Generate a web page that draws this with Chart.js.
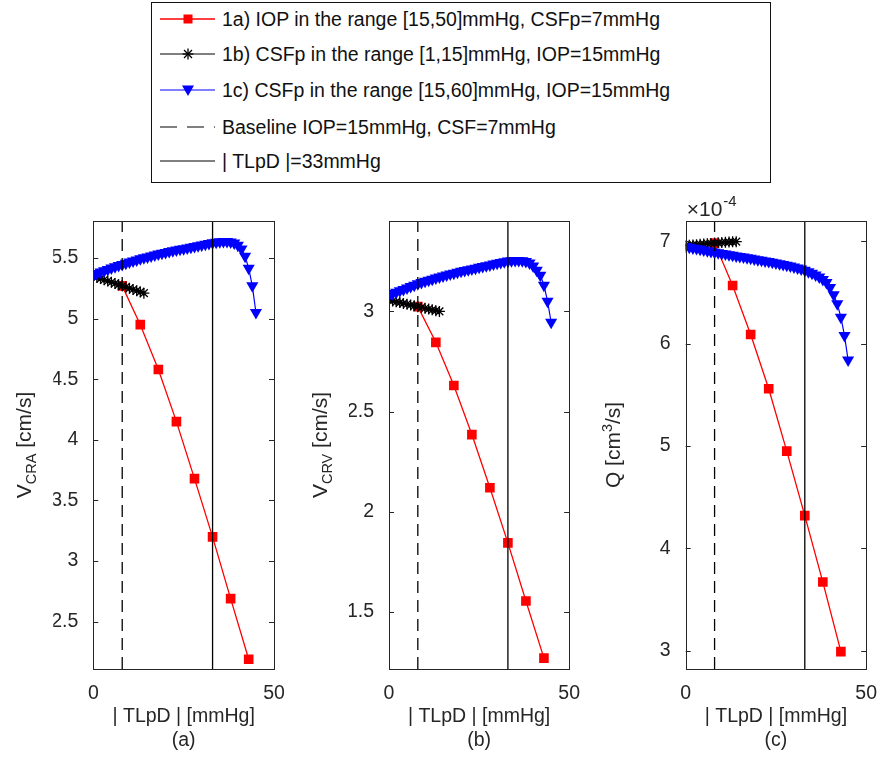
<!DOCTYPE html>
<html>
<head>
<meta charset="utf-8">
<script src="https://cdn.jsdelivr.net/npm/chart.js"></script>
<style>
  html, body { margin: 0; padding: 0; background: #fff; }
  #page { position: relative; width: 882px; height: 758px; overflow: hidden; font-family: "Liberation Sans", Arial, sans-serif; color: #111; }
  canvas { position: absolute; top: 190px; }
  #legendBox { position: absolute; left: 151px; top: 2px; width: 618px; height: 179px; border: 1px solid #111; }
  .entry { position: absolute; left: 158px; height: 30px; width: 600px; }
  .entry svg { position: absolute; left: 0; top: 0; }
  .entry span { position: absolute; left: 64px; top: 0; line-height: 30px; font-size: 19.5px; white-space: nowrap; }
</style>
</head>
<body>
<div id="page">
  <div id="legendBox"></div>
  <div class="entry" style="top:4px">
    <svg width="60" height="30"><line x1="2" y1="15" x2="57" y2="15" stroke="#f00" stroke-width="1.3"/><rect x="25.5" y="10.5" width="9" height="9" fill="#f00"/></svg>
    <span>1a) IOP in the range [15,50]mmHg, CSFp=7mmHg</span>
  </div>
  <div class="entry" style="top:39px">
    <svg width="60" height="30"><line x1="2" y1="15" x2="57" y2="15" stroke="#000" stroke-width="1"/>
      <g stroke="#000" stroke-width="1.3"><line x1="30" y1="9.5" x2="30" y2="20.5"/><line x1="24.5" y1="15" x2="35.5" y2="15"/><line x1="26" y1="11" x2="34" y2="19"/><line x1="26" y1="19" x2="34" y2="11"/></g></svg>
    <span>1b) CSFp in the range [1,15]mmHg, IOP=15mmHg</span>
  </div>
  <div class="entry" style="top:75px">
    <svg width="60" height="30"><line x1="2" y1="15" x2="57" y2="15" stroke="#00f" stroke-width="1"/><polygon points="24,10.5 36,10.5 30,21" fill="#00f"/></svg>
    <span>1c) CSFp in the range [15,60]mmHg, IOP=15mmHg</span>
  </div>
  <div class="entry" style="top:112px">
    <svg width="60" height="30"><line x1="2" y1="15" x2="57" y2="15" stroke="#000" stroke-width="1.2" stroke-dasharray="17 10"/></svg>
    <span>Baseline IOP=15mmHg, CSF=7mmHg</span>
  </div>
  <div class="entry" style="top:146px">
    <svg width="60" height="30"><line x1="2" y1="15" x2="57" y2="15" stroke="#000" stroke-width="1.2"/></svg>
    <span>| TLpD |=33mmHg</span>
  </div>
  <canvas id="chartA" width="290" height="568" style="left:0px"></canvas>
  <canvas id="chartB" width="290" height="568" style="left:295px"></canvas>
  <canvas id="chartC" width="292" height="568" style="left:590px"></canvas>
</div>
<script>
// |TLpD| values of each simulation set [mmHg]
const tlpdIop = [8, 13, 18, 23, 28, 33, 38, 43];
const tlpdCsfLow = [0, 1, 2, 3, 4, 5, 6, 7, 8, 9, 10, 11, 12, 13, 14];
const tlpdCsfHigh = [0, 1, 2, 3, 4, 5, 6, 7, 8, 9, 10, 11, 12, 13, 14, 15, 16, 17, 18, 19, 20, 21, 22,
  23, 24, 25, 26, 27, 28, 29, 30, 31, 32, 33, 34, 35, 36, 37, 38, 39, 40, 41, 42, 43, 44, 45];
const baselineTlpd = 8;
const thresholdTlpd = 33;
const xTicks = [0, 50];

// (a) CRA velocity [cm/s]
const vcraIop = [5.27, 4.95, 4.58, 4.15, 3.68, 3.20, 2.69, 2.19];
const vcraCsfLow = [5.35, 5.34, 5.33, 5.32, 5.31, 5.30, 5.29, 5.28, 5.27, 5.26, 5.25, 5.24, 5.23, 5.22, 5.21];
const vcraCsfHigh = [5.36, 5.372, 5.384, 5.395, 5.406, 5.417, 5.427, 5.437, 5.447, 5.457, 5.466, 5.475,
  5.484, 5.493, 5.501, 5.509, 5.517, 5.525, 5.532, 5.539, 5.546, 5.553, 5.559, 5.565, 5.571, 5.577,
  5.583, 5.589, 5.595, 5.601, 5.607, 5.613, 5.619, 5.625, 5.63, 5.634, 5.636, 5.636, 5.632, 5.623,
  5.605, 5.575, 5.515, 5.415, 5.27, 5.05];
const vcraTicks = [2.5, 3, 3.5, 4, 4.5, 5, 5.5];

// (b) CRV velocity [cm/s]
const vcrvIop = [3.023, 2.845, 2.63, 2.385, 2.12, 1.845, 1.555, 1.27];
const vcrvCsfLow = [3.055, 3.051, 3.047, 3.043, 3.039, 3.035, 3.031, 3.027, 3.023, 3.019, 3.015, 3.011,
  3.007, 3.003, 2.999];
const vcrvCsfHigh = [3.08, 3.088, 3.095, 3.102, 3.109, 3.116, 3.123, 3.13, 3.137, 3.143, 3.149, 3.155,
  3.16, 3.166, 3.171, 3.176, 3.181, 3.186, 3.19, 3.195, 3.199, 3.203, 3.207, 3.211, 3.215, 3.219,
  3.223, 3.227, 3.231, 3.235, 3.239, 3.243, 3.247, 3.25, 3.252, 3.253, 3.253, 3.252, 3.248, 3.24,
  3.225, 3.205, 3.18, 3.13, 3.05, 2.945];
const vcrvTicks = [1.5, 2, 2.5, 3];

// (c) flow rate, in units of 1e-4 cm^3/s
const flowIop = [6.984, 6.57, 6.09, 5.56, 4.95, 4.32, 3.67, 2.99];
const flowCsfLow = [6.96, 6.963, 6.966, 6.969, 6.972, 6.975, 6.978, 6.981, 6.984, 6.987, 6.99, 6.992,
  6.994, 6.996, 6.998];
const flowCsfHigh = [6.95, 6.943, 6.936, 6.93, 6.923, 6.916, 6.909, 6.902, 6.895, 6.889, 6.883, 6.877,
  6.871, 6.865, 6.859, 6.853, 6.847, 6.841, 6.835, 6.829, 6.822, 6.816, 6.81, 6.803, 6.796, 6.789,
  6.782, 6.775, 6.767, 6.759, 6.75, 6.74, 6.73, 6.718, 6.705, 6.69, 6.672, 6.652, 6.628, 6.598,
  6.55, 6.48, 6.39, 6.26, 6.08, 5.84];
const flowTicks = [3, 4, 5, 6, 7];

const FONT = '"Liberation Sans", Arial, sans-serif';
const INK = '#262626';

const pts = (xs, ys) => xs.map((x, i) => ({ x: x, y: ys[i] }));

// box around the plot area with inward ticks on all four sides
const framePlugin = {
  id: 'frame',
  afterDatasetsDraw(chart) {
    const { ctx, chartArea: a, scales } = chart;
    ctx.save();
    ctx.strokeStyle = INK;
    ctx.lineWidth = 1;
    ctx.strokeRect(Math.round(a.left) + 0.5, Math.round(a.top) + 0.5,
      Math.round(a.right - a.left), Math.round(a.bottom - a.top));
    ctx.beginPath();
    scales.y.ticks.forEach(t => {
      const y = Math.round(scales.y.getPixelForValue(t.value)) + 0.5;
      ctx.moveTo(a.left, y); ctx.lineTo(a.left + 5, y);
      ctx.moveTo(a.right, y); ctx.lineTo(a.right - 5, y);
    });
    scales.x.ticks.forEach(t => {
      const x = Math.round(scales.x.getPixelForValue(t.value)) + 0.5;
      ctx.moveTo(x, a.bottom); ctx.lineTo(x, a.bottom - 5);
      ctx.moveTo(x, a.top); ctx.lineTo(x, a.top + 5);
    });
    ctx.stroke();
    ctx.restore();
  }
};

// rotated y label made of runs with sub/superscripts, plus optional exponent note
const labelPlugin = {
  id: 'axisLabel',
  afterDraw(chart, args, opts) {
    const { ctx, chartArea: a } = chart;
    ctx.save();
    ctx.fillStyle = INK;
    ctx.textBaseline = 'alphabetic';
    const runs = opts.runs || [];
    let total = 0;
    runs.forEach(r => {
      ctx.font = r.size + 'px ' + FONT;
      r.w = ctx.measureText(r.text).width;
      total += r.w;
    });
    ctx.translate(opts.x, (a.top + a.bottom) / 2 + (opts.shift || 0));
    ctx.rotate(-Math.PI / 2);
    let cx = -total / 2;
    runs.forEach(r => {
      ctx.font = r.size + 'px ' + FONT;
      ctx.fillText(r.text, cx, 7 + (r.dy || 0));
      cx += r.w;
    });
    ctx.restore();
    if (opts.exponent) {
      ctx.save();
      ctx.fillStyle = INK;
      ctx.font = '21px ' + FONT;
      ctx.fillText('\u00d710', a.left + 1, a.top - 5);
      const w = ctx.measureText('\u00d710').width;
      ctx.font = '15px ' + FONT;
      ctx.fillText(opts.exponent, a.left + 2 + w, a.top - 15);
      ctx.restore();
    }
  }
};

function makePanel(id, cfg) {
  new Chart(document.getElementById(id), {
    type: 'line',
    data: {
      datasets: [
        {
          label: '|TLpD| = 33 mmHg',
          data: [{ x: thresholdTlpd, y: cfg.yMin }, { x: thresholdTlpd, y: cfg.yMax }],
          borderColor: '#000', borderWidth: 1.3, pointRadius: 0, order: 0
        },
        {
          label: 'Baseline',
          data: [{ x: baselineTlpd, y: cfg.yMin }, { x: baselineTlpd, y: cfg.yMax }],
          borderColor: '#000', borderWidth: 1.3, borderDash: [12, 7], pointRadius: 0, order: 0
        },
        {
          label: '1c',
          data: pts(tlpdCsfHigh, cfg.high),
          borderColor: '#00f', borderWidth: 1.2, backgroundColor: '#00f',
          pointStyle: 'triangle', rotation: 180, pointRadius: 7, pointBorderWidth: 0, order: 1
        },
        {
          label: '1b',
          data: pts(tlpdCsfLow, cfg.low),
          borderColor: '#000', borderWidth: 1, backgroundColor: '#000',
          pointStyle: 'star', pointRadius: 5.5, pointBorderWidth: 1.3, order: 2
        },
        {
          label: '1a',
          data: pts(tlpdIop, cfg.iop),
          borderColor: '#f00', borderWidth: 1.3, backgroundColor: '#f00',
          pointStyle: 'rect', pointRadius: 6.8, pointBorderWidth: 0, order: 3
        }
      ]
    },
    options: {
      responsive: false,
      animation: false,
      events: [],
      layout: { padding: { left: cfg.padLeft, right: cfg.padRight, top: 31, bottom: 0 } },
      plugins: {
        legend: { display: false },
        tooltip: { enabled: false },
        axisLabel: cfg.label
      },
      scales: {
        x: {
          type: 'linear', min: 0, max: 50,
          grid: { display: false }, border: { display: false },
          ticks: { color: INK, font: { family: FONT, size: 19.5 }, padding: 5, maxRotation: 0 },
          afterBuildTicks: s => { s.ticks = xTicks.map(v => ({ value: v })); },
          afterFit: s => { s.height = 89; },
          title: {
            display: true, text: ['| TLpD | [mmHg]', cfg.tag], color: INK,
            font: { family: FONT, size: 19.5, lineHeight: 1.25 }, padding: { top: 0, bottom: 5 }
          }
        },
        y: {
          type: 'linear', min: cfg.yMin, max: cfg.yMax,
          grid: { display: false }, border: { display: false },
          ticks: { color: INK, font: { family: FONT, size: 19.5 }, padding: 7, callback: v => String(v) },
          afterBuildTicks: s => { s.ticks = cfg.yTicks.map(v => ({ value: v })); },
          afterFit: s => { s.width = 40; }
        }
      }
    },
    plugins: [framePlugin, labelPlugin]
  });
}

makePanel('chartA', {
  iop: vcraIop, low: vcraCsfLow, high: vcraCsfHigh,
  yMin: 2.11, yMax: 5.805, yTicks: vcraTicks, tag: '(a)',
  padLeft: 53.3, padRight: 16,
  label: { x: 24, runs: [{ text: 'V', size: 21 }, { text: 'CRA', size: 14.5, dy: 5 }, { text: ' [cm/s]', size: 21 }] }
});
makePanel('chartB', {
  iop: vcrvIop, low: vcrvCsfLow, high: vcrvCsfHigh,
  yMin: 1.216, yMax: 3.45, yTicks: vcrvTicks, tag: '(b)',
  padLeft: 54, padRight: 14.3,
  label: { x: 25, runs: [{ text: 'V', size: 21 }, { text: 'CRV', size: 14.5, dy: 5 }, { text: ' [cm/s]', size: 21 }] }
});
makePanel('chartC', {
  iop: flowIop, low: flowCsfLow, high: flowCsfHigh,
  yMin: 2.82, yMax: 7.2, yTicks: flowTicks, tag: '(c)',
  padLeft: 55.7, padRight: 13.7,
  label: { x: 23, exponent: '-4', runs: [{ text: 'Q [cm', size: 21 }, { text: '3', size: 14.5, dy: -8 }, { text: '/s]', size: 21 }] }
});
</script>
</body>
</html>
